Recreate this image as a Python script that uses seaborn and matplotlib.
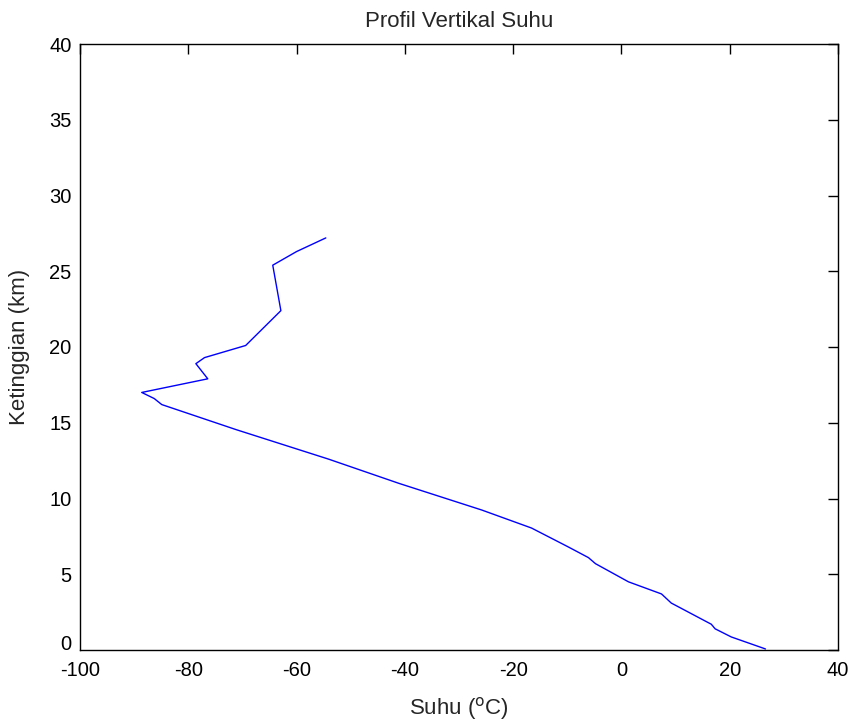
import matplotlib
matplotlib.use("Agg")
import matplotlib.pyplot as plt
import seaborn as sns
import pandas as pd

# Temperature (°C) and altitude (km)
suhu = [26.6, 20.3, 17.3, 16.6, 9.2, 7.4, 1.3, -4.8, -6.1, -9.8,
        -16.6, -25.8, -41.1, -54.1, -71.2, -84.9, -86.3, -88.6,
        -76.4, -78.6, -77.0, -69.4, -62.9, -64.4, -60.0, -54.6]
ketinggian = [0.07, 0.86, 1.4, 1.7, 3.1, 3.7, 4.5, 5.7, 6.1, 6.8,
              8.05, 9.24, 11.0, 12.6, 14.55, 16.2, 16.6, 17.0,
              17.9, 18.9, 19.3, 20.1, 22.4, 25.4, 26.3, 27.2]
xticks = [-100, -80, -60, -40, -20, 0, 20, 40]
yticks = [0, 5, 10, 15, 20, 25, 30, 35, 40]

df = pd.DataFrame({"suhu": suhu, "ketinggian": ketinggian})

sns.set_style("white")
plt.rcParams['font.family'] = ['Liberation Sans', 'DejaVu Sans']
plt.rcParams['axes.unicode_minus'] = False

fig = plt.figure(figsize=(8.54, 7.21), dpi=100)
ax = fig.add_axes([80/854, 71/721, 758/854, 606/721])

sns.lineplot(data=df, x="suhu", y="ketinggian", sort=False, estimator=None,
             color="#0000ff", linewidth=1.0, ax=ax)

ax.set_xlim(-100, 40)
ax.set_ylim(0, 40)
ax.set_xticks(xticks)
ax.set_yticks(yticks)
ax.tick_params(direction="in", length=7, width=1, top=True, right=True,
               labelsize=14.5, colors="black")
ax.tick_params(axis="x", pad=8)
ax.tick_params(axis="y", pad=6)
# keep the "0" label on the y axis just above "-100"
ax.get_yticklabels()[0].set_verticalalignment("baseline")
for s in ax.spines.values():
    s.set_color("black")
    s.set_linewidth(1.0)
ax.set_xlabel("Suhu ($^{\\mathrm{o}}$C)", fontsize=16, labelpad=11)
ax.set_ylabel("Ketinggian (km)", fontsize=16, labelpad=14)
ax.set_title("Profil Vertikal Suhu", fontsize=16, pad=12)

fig.savefig("out.png", dpi=100, facecolor="white")
